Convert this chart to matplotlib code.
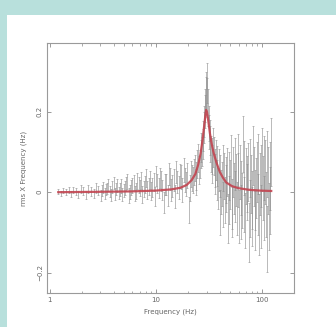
import numpy as np
import matplotlib
matplotlib.use("Agg")
import matplotlib.pyplot as plt
from matplotlib.patches import Rectangle
from matplotlib.ticker import LogLocator, FixedLocator, FixedFormatter, NullFormatter

# measured power spectrum (frequency in Hz, rms x frequency, 1-sigma error)
freq = [1.2, 1.27, 1.34, 1.42, 1.5, 1.58, 1.67, 1.76, 1.86, 1.96,
        2.07, 2.19, 2.31, 2.44, 2.58, 2.72, 2.87, 3.03, 3.2, 3.38,
        3.57, 3.77, 3.98, 4.2, 4.44, 4.69, 4.95, 5.23, 5.52, 5.83,
        6.16, 6.5, 6.87, 7.25, 7.66, 8.09, 8.54, 9.02, 9.53, 10.06,
        10.6, 11.2, 11.8, 12.5, 13.2, 13.9, 14.7, 15.5, 16.4, 17.3,
        18.2, 19.2, 20.3, 21.4, 22.3, 23.2, 24.1, 25.0, 25.9, 26.7,
        27.5, 28.3, 29.0, 29.6, 30.2, 30.9, 31.7, 32.6, 33.6, 34.6,
        35.7, 36.8, 38.0, 39.2, 40.5, 41.8, 43.2, 44.6, 46.1, 47.6,
        49.2, 50.8, 52.5, 54.2, 56.0, 57.8, 59.7, 61.7, 63.7, 65.8,
        68.0, 70.2, 72.5, 74.9, 77.4, 79.9, 82.5, 85.2, 88.0, 90.9,
        93.9, 97.0, 100.2, 103.5, 106.9, 110.4, 114.0, 117.8, 121.0]

power = [0.002, -0.003, 0.004, 0.000, 0.005, -0.004, 0.006, 0.001, -0.005, 0.008,
         0.003, -0.006, 0.009, 0.002, -0.004, 0.010, 0.004, -0.008, 0.012, 0.006,
         0.018, -0.006, 0.022, 0.008, -0.002, 0.015, 0.004, 0.020, -0.008, 0.012,
         0.024, 0.002, 0.018, 0.030, 0.008, 0.035, 0.014, 0.003, 0.025, 0.040,
         0.010, 0.028, -0.025, 0.020, 0.045, 0.005, 0.030, 0.050, 0.012, 0.038,
         0.055, 0.020, -0.045, 0.045, 0.030, 0.060, 0.040, 0.085, 0.070, 0.110,
         0.120, 0.160, 0.200, 0.240, 0.270, 0.210, 0.150, 0.120, 0.090, 0.110,
         0.060, 0.080, 0.030, 0.055, -0.050, 0.020, 0.060, -0.020, 0.030, -0.065,
         0.040, 0.080, -0.030, 0.010, 0.070, -0.040, 0.030, 0.050, -0.050, 0.120,
         -0.030, 0.040, 0.020, -0.100, 0.060, -0.020, 0.090, -0.070, 0.010, 0.070,
         -0.080, 0.040, 0.080, -0.040, 0.050, -0.115, 0.030, -0.020, 0.100]

error = [0.006, 0.007, 0.006, 0.008, 0.007, 0.008, 0.008, 0.009, 0.009, 0.009,
         0.010, 0.010, 0.010, 0.011, 0.011, 0.012, 0.012, 0.013, 0.013, 0.014,
         0.014, 0.015, 0.015, 0.016, 0.016, 0.017, 0.017, 0.018, 0.018, 0.019,
         0.019, 0.020, 0.020, 0.021, 0.021, 0.022, 0.022, 0.023, 0.023, 0.024,
         0.025, 0.025, 0.026, 0.026, 0.027, 0.027, 0.028, 0.028, 0.029, 0.029,
         0.030, 0.030, 0.032, 0.032, 0.033, 0.033, 0.034, 0.035, 0.035, 0.036,
         0.037, 0.038, 0.040, 0.045, 0.050, 0.045, 0.042, 0.045, 0.045, 0.048,
         0.048, 0.050, 0.050, 0.052, 0.055, 0.055, 0.057, 0.057, 0.058, 0.060,
         0.060, 0.062, 0.062, 0.063, 0.064, 0.065, 0.066, 0.067, 0.067, 0.070,
         0.068, 0.069, 0.069, 0.072, 0.071, 0.072, 0.073, 0.074, 0.074, 0.075,
         0.076, 0.077, 0.078, 0.079, 0.080, 0.082, 0.083, 0.083, 0.085]

# interleaved bins above 3 Hz (the spectrum is densely sampled there)
freq_b = [3.11, 3.29, 3.47, 3.67, 3.87, 4.09, 4.32, 4.56, 4.82, 5.09,
          5.37, 5.67, 6.0, 6.33, 6.68, 7.06, 7.45, 7.87, 8.31, 8.78,
          9.27, 9.79, 10.33, 10.9, 11.5, 12.15, 12.85, 13.55, 14.3, 15.1,
          15.95, 16.85, 17.75, 18.7, 19.75, 20.85, 21.85, 22.75, 23.65, 24.55,
          25.45, 26.3, 27.1, 27.9, 28.65, 29.3, 29.9, 30.55, 31.3, 32.15,
          33.1, 34.1, 35.15, 36.25, 37.4, 38.6, 39.85, 41.15, 42.5, 43.9,
          45.35, 46.85, 48.4, 50.0, 51.65, 53.35, 55.1, 56.9, 58.75, 60.7,
          62.7, 64.75, 66.9, 69.1, 71.35, 73.7, 76.15, 78.65, 81.2, 83.85,
          86.6, 89.45, 92.4, 95.45, 98.6, 101.85, 105.2, 108.65, 112.2, 115.9,
          119.4]

power_b = [0.004, -0.003, 0.010, 0.002, 0.012, -0.004, 0.016, 0.006, -0.006, 0.011,
           0.026, 0.001, 0.016, -0.004, 0.028, 0.010, -0.006, 0.020, 0.005, 0.030,
           0.012, -0.010, 0.022, 0.035, 0.006, 0.018, -0.008, 0.032, 0.015, -0.010,
           0.025, 0.040, 0.005, 0.030, 0.042, 0.010, 0.035, 0.050, 0.025, 0.070,
           0.055, 0.095, 0.100, 0.140, 0.175, 0.215, 0.250, 0.235, 0.170, 0.135,
           0.095, 0.070, 0.090, 0.045, 0.065, 0.010, 0.040, 0.000, -0.030, 0.040,
           0.010, 0.050, -0.020, 0.020, -0.050, 0.050, -0.010, 0.030, 0.080, -0.060,
           0.010, -0.020, 0.060, -0.070, 0.000, 0.050, -0.040, 0.020, -0.060, 0.040,
           -0.020, 0.050, -0.030, 0.020, -0.060, 0.010, 0.060, -0.030, 0.070, -0.060,
           0.040]

error_b = [0.013, 0.013, 0.014, 0.014, 0.015, 0.015, 0.016, 0.016, 0.017, 0.017,
           0.018, 0.018, 0.019, 0.019, 0.020, 0.020, 0.021, 0.021, 0.022, 0.022,
           0.023, 0.024, 0.024, 0.025, 0.025, 0.026, 0.026, 0.027, 0.027, 0.028,
           0.028, 0.029, 0.029, 0.030, 0.031, 0.032, 0.032, 0.033, 0.033, 0.034,
           0.035, 0.035, 0.036, 0.037, 0.039, 0.042, 0.048, 0.048, 0.043, 0.043,
           0.045, 0.046, 0.048, 0.049, 0.050, 0.051, 0.053, 0.055, 0.056, 0.057,
           0.058, 0.059, 0.060, 0.061, 0.062, 0.063, 0.063, 0.064, 0.065, 0.066,
           0.067, 0.068, 0.068, 0.069, 0.069, 0.071, 0.071, 0.072, 0.073, 0.073,
           0.074, 0.075, 0.076, 0.077, 0.078, 0.079, 0.080, 0.081, 0.082, 0.083,
           0.084]

# best-fit model curve
model_freq = [1.2, 3.0, 6.0, 10.0, 14.0, 17.0, 19.5, 21.7, 23.5, 25.0,
              26.3, 27.5, 28.5, 29.2, 29.7, 30.3, 31.2, 32.3, 33.5, 35.0,
              37.0, 40.0, 43.0, 46.0, 52.0, 60.0, 75.0, 95.0, 122.0]
model_power = [0.000, 0.001, 0.002, 0.004, 0.007, 0.011, 0.018, 0.030, 0.045, 0.068,
               0.095, 0.130, 0.165, 0.190, 0.204, 0.198, 0.175, 0.145, 0.120, 0.097,
               0.075, 0.050, 0.035, 0.024, 0.015, 0.010, 0.006, 0.004, 0.003]

W, H = 336, 327
fig = plt.figure(figsize=(W / 100, H / 100), dpi=100)
fig.patch.set_facecolor("#b8e0dc")
# white panel inside the teal frame
fig.add_artist(Rectangle((7 / W, 0), 1 - 7 / W, 1 - 15 / H, transform=fig.transFigure,
                         facecolor="white", edgecolor="none", zorder=0))

ax = fig.add_axes([47 / W, 1 - 293 / H, (294 - 47) / W, (293 - 43) / H])
ax.set_facecolor("white")

for f, p, e in [(freq, power, error), (freq_b, power_b, error_b)]:
    ax.errorbar(f, p, yerr=e, fmt="none", ecolor="#8c8c8c",
                elinewidth=0.5, capsize=0.8, capthick=0.45, alpha=0.85, zorder=2)
ax.plot(model_freq, model_power, color="#c24450", lw=1.6, alpha=0.9, zorder=3)

ax.set_xscale("log")
ax.set_xlim(0.94, 200)
ax.set_ylim(-0.25, 0.37)

ax.xaxis.set_major_locator(FixedLocator([1, 10, 100]))
ax.xaxis.set_major_formatter(FixedFormatter(["1", "10", "100"]))
ax.xaxis.set_minor_locator(LogLocator(base=10, subs=np.arange(2, 10)))
ax.xaxis.set_minor_formatter(NullFormatter())
ax.yaxis.set_major_locator(FixedLocator([-0.2, 0, 0.2]))
ax.yaxis.set_major_formatter(FixedFormatter(["\u22120.2", "0", "0.2"]))

for s in ax.spines.values():
    s.set_color("#9a9a9a")
    s.set_linewidth(0.8)

ax.tick_params(which="both", direction="in", top=True, right=True,
               color="#8a8a8a", labelcolor="#666666", labelsize=5)
ax.tick_params(which="major", length=3, width=0.6, pad=3)
ax.tick_params(which="minor", length=1.8, width=0.5)
for lab in ax.get_yticklabels():
    lab.set_rotation(90)
    lab.set_va("center")

ax.set_xlabel("Frequency (Hz)", fontsize=5, color="#666666", labelpad=4)
ax.set_ylabel("rms X Frequency (Hz)", fontsize=5, color="#666666", labelpad=7)

fig.savefig("out.png", dpi=100, facecolor=fig.get_facecolor())
